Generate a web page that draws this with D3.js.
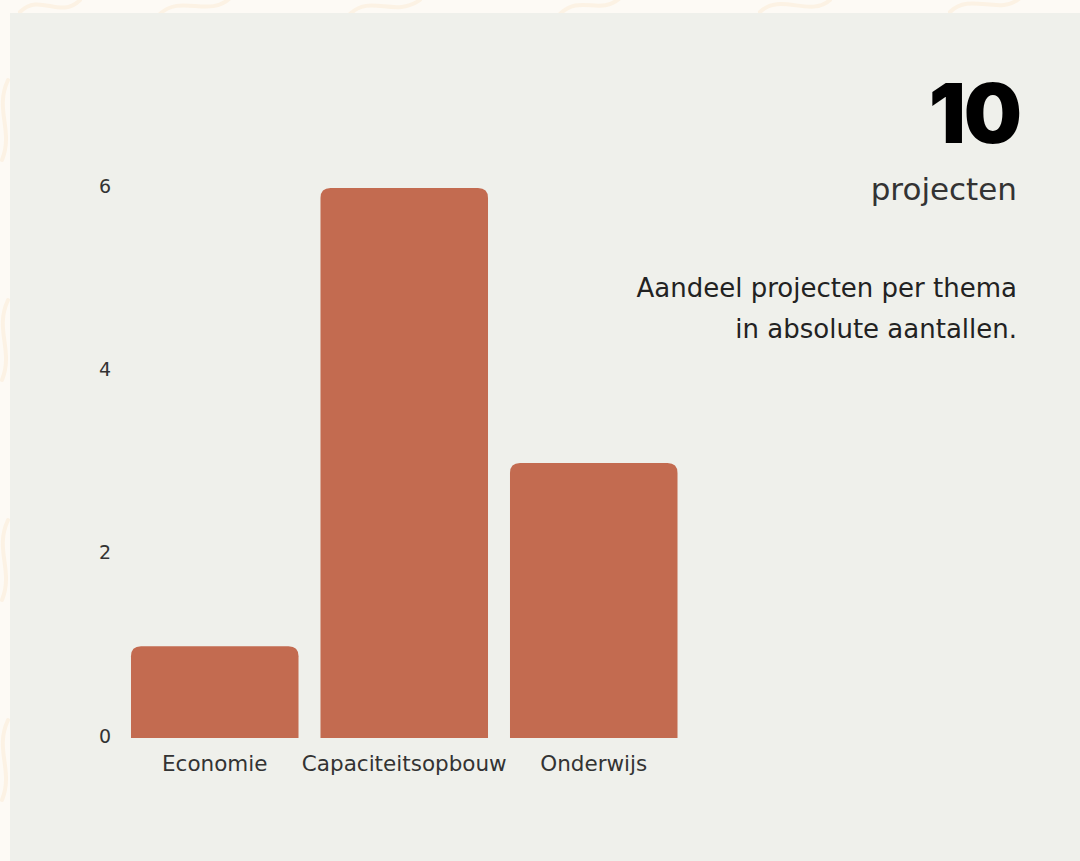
<!DOCTYPE html>
<html>
<head>
<meta charset="utf-8">
<script src="https://cdn.jsdelivr.net/npm/d3@7"></script>
<style>
html,body{margin:0;padding:0;background:#fdfaf5;}
svg{display:block;}
</style>
</head>
<body>
<svg id="chart" width="1080" height="861"></svg>
<script>
const categories = ["Economie", "Capaciteitsopbouw", "Onderwijs"];
const values = [1, 6, 3];
const yTicks = [0, 2, 4, 6];
const totalLabel = "10";
const unitLabel = "projecten";
const descLines = ["Aandeel projecten per thema", "in absolute aantallen."];

const svg = d3.select("#chart");
const W = 1080, H = 861;
const FONT = "'DejaVu Sans', sans-serif";

// decorative background squiggles
const deco = svg.append("g").attr("fill","none").attr("stroke","#fcf2e4").attr("stroke-width",4).attr("stroke-linecap","round");
const squiggles = [
  "M20,12 C40,-8 60,20 80,0", "M160,14 C180,-6 210,18 230,-2",
  "M350,14 C370,-6 395,18 420,0", "M560,14 C580,-6 600,16 620,-2",
  "M760,12 C780,-8 810,18 830,0", "M950,12 C970,-8 1000,16 1020,-2",
  "M8,80 C-6,110 14,130 2,160", "M8,300 C-6,330 14,350 2,380",
  "M8,520 C-6,550 14,570 2,600", "M8,720 C-6,750 14,770 2,800"
];
deco.selectAll("path").data(squiggles).join("path").attr("d", d => d);

// panel
svg.append("rect").attr("x",10).attr("y",13).attr("width",W-10).attr("height",H-13).attr("fill","#eff0eb");

const x = d3.scaleBand().domain(categories).range([120, 688.5]).paddingInner(0.116).paddingOuter(0.058);
const y = d3.scaleLinear().domain([0, 6]).range([738, 188]);

const r = 10;
function topRounded(x0, y0, w, h){
  const rr = Math.min(r, h, w/2);
  return `M${x0},${y0+h} L${x0},${y0+rr} Q${x0},${y0} ${x0+rr},${y0} L${x0+w-rr},${y0} Q${x0+w},${y0} ${x0+w},${y0+rr} L${x0+w},${y0+h} Z`;
}

svg.append("g").selectAll("path").data(categories).join("path")
  .attr("d", (c,i) => topRounded(x(c), y(values[i]), x.bandwidth(), y(0)-y(values[i])))
  .attr("fill", "#c36b50");

// y axis
const yAxis = d3.axisLeft(y).tickValues(yTicks).tickSize(0).tickPadding(0).tickFormat(d3.format("d"));
const gy = svg.append("g").attr("transform","translate(105,-2)").call(yAxis);
gy.select(".domain").remove();
gy.selectAll("text").attr("font-family",FONT).attr("font-size",19).attr("fill","#333").attr("text-anchor","middle").attr("x",0);

// x axis
const xAxis = d3.axisBottom(x).tickSize(0).tickPadding(0);
const gx = svg.append("g").attr("transform","translate(0,771)").call(xAxis);
gx.select(".domain").remove();
gx.selectAll("text").attr("font-family",FONT).attr("font-size",21.5).attr("fill","#333").attr("dy","0");

// right-side texts
svg.append("text").attr("x",1020).attr("y",143).attr("text-anchor","end")
  .attr("font-family","Inter, sans-serif").attr("font-weight",900).attr("font-size",82).attr("letter-spacing","-2")
  .attr("fill","#000").text(totalLabel);
svg.append("text").attr("x",1017).attr("y",200).attr("text-anchor","end")
  .attr("font-family",FONT).attr("font-size",31)
  .attr("fill","#333").text(unitLabel);
svg.append("g").selectAll("text").data(descLines).join("text")
  .attr("x",1017).attr("y",(d,i)=>297+i*41).attr("text-anchor","end")
  .attr("font-family",FONT).attr("font-size",26)
  .attr("fill","#222").text(d=>d);
</script>
</body>
</html>
